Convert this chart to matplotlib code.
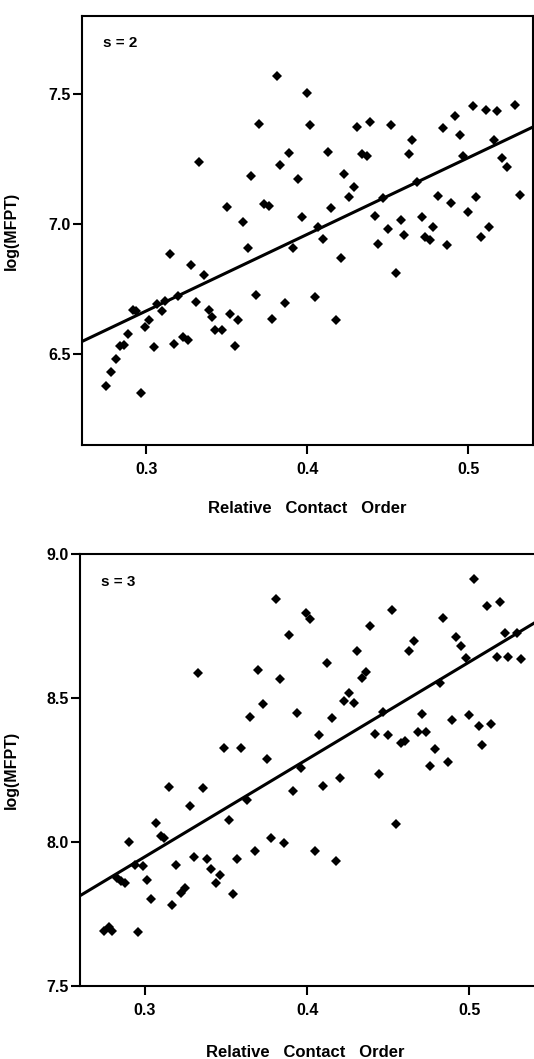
import numpy as np
import matplotlib
matplotlib.use('Agg')
from matplotlib import pyplot as plt

plt.rcParams['font.family'] = ['Liberation Sans', 'DejaVu Sans']
plt.rcParams['font.weight'] = 'bold'

# s = 2 panel
rco_s2 = [0.381, 0.370, 0.333, 0.389, 0.383, 0.365, 0.394, 0.350, 0.373, 0.376,
          0.360, 0.397, 0.400, 0.402, 0.413, 0.423, 0.429, 0.426, 0.415, 0.431,
          0.439, 0.452, 0.434, 0.437, 0.465, 0.463, 0.484, 0.492, 0.495, 0.503,
          0.511, 0.518, 0.529, 0.516, 0.497, 0.521, 0.524, 0.468, 0.447, 0.407,
          0.532, 0.481, 0.489, 0.505, 0.500, 0.442, 0.458, 0.450, 0.471, 0.478,
          0.460, 0.473, 0.476, 0.513, 0.508, 0.410, 0.444, 0.487, 0.391, 0.421,
          0.455, 0.386, 0.405, 0.378, 0.418, 0.315, 0.328, 0.336, 0.363, 0.368,
          0.320, 0.331, 0.312, 0.307, 0.310, 0.292, 0.294, 0.339, 0.341, 0.352,
          0.357, 0.343, 0.347, 0.355, 0.302, 0.299, 0.289, 0.284, 0.286, 0.305,
          0.317, 0.323, 0.326, 0.281, 0.278, 0.275, 0.297]
mfpt_s2 = [7.571, 7.386, 7.237, 7.273, 7.228, 7.183, 7.173, 7.064, 7.076, 7.069,
           7.008, 7.026, 7.505, 7.381, 7.277, 7.192, 7.142, 7.105, 7.061, 7.373,
           7.391, 7.380, 7.269, 7.260, 7.324, 7.268, 7.368, 7.417, 7.344, 7.453,
           7.440, 7.434, 7.459, 7.324, 7.263, 7.254, 7.219, 7.161, 7.099, 6.990,
           7.112, 7.109, 7.080, 7.105, 7.047, 7.032, 7.015, 6.981, 7.026, 6.987,
           6.958, 6.951, 6.938, 6.990, 6.951, 6.944, 6.922, 6.920, 6.909, 6.871,
           6.812, 6.698, 6.719, 6.636, 6.629, 6.883, 6.842, 6.803, 6.906, 6.726,
           6.722, 6.700, 6.703, 6.694, 6.664, 6.668, 6.664, 6.671, 6.642, 6.653,
           6.629, 6.593, 6.593, 6.530, 6.629, 6.603, 6.575, 6.530, 6.533, 6.526,
           6.539, 6.565, 6.552, 6.480, 6.432, 6.377, 6.349]

# s = 3 panel
rco_s3 = [0.381, 0.389, 0.333, 0.370, 0.383, 0.373, 0.365, 0.394, 0.349, 0.359,
          0.375, 0.399, 0.402, 0.412, 0.431, 0.439, 0.452, 0.466, 0.463, 0.484,
          0.503, 0.511, 0.519, 0.492, 0.495, 0.522, 0.529, 0.498, 0.517, 0.524,
          0.532, 0.436, 0.434, 0.482, 0.426, 0.423, 0.429, 0.415, 0.447, 0.471,
          0.489, 0.500, 0.506, 0.513, 0.508, 0.407, 0.442, 0.450, 0.468, 0.473,
          0.458, 0.460, 0.479, 0.476, 0.487, 0.396, 0.315, 0.336, 0.391, 0.410,
          0.420, 0.444, 0.363, 0.328, 0.352, 0.307, 0.310, 0.312, 0.290, 0.378,
          0.386, 0.368, 0.330, 0.338, 0.357, 0.294, 0.299, 0.319, 0.341, 0.346,
          0.344, 0.283, 0.285, 0.288, 0.301, 0.325, 0.322, 0.354, 0.304, 0.317,
          0.275, 0.278, 0.280, 0.296, 0.455, 0.405, 0.418]
mfpt_s3 = [8.846, 8.719, 8.588, 8.600, 8.567, 8.481, 8.435, 8.450, 8.328, 8.328,
           8.290, 8.797, 8.777, 8.623, 8.663, 8.752, 8.805, 8.698, 8.663, 8.779,
           8.915, 8.819, 8.835, 8.712, 8.681, 8.727, 8.727, 8.640, 8.644, 8.642,
           8.638, 8.590, 8.571, 8.552, 8.517, 8.490, 8.484, 8.432, 8.451, 8.447,
           8.426, 8.443, 8.403, 8.411, 8.339, 8.372, 8.376, 8.372, 8.383, 8.383,
           8.345, 8.351, 8.325, 8.265, 8.278, 8.259, 8.192, 8.189, 8.178, 8.195,
           8.224, 8.236, 8.148, 8.128, 8.079, 8.069, 8.021, 8.015, 8.001, 8.017,
           7.999, 7.969, 7.948, 7.943, 7.943, 7.923, 7.919, 7.920, 7.909, 7.888,
           7.859, 7.876, 7.865, 7.859, 7.870, 7.842, 7.824, 7.822, 7.805, 7.784,
           7.694, 7.708, 7.691, 7.689, 8.064, 7.969, 7.934]

x_ticks = [0.3, 0.4, 0.5]
x_ticklabels = ['0.3', '0.4', '0.5']
s2_yticks = [6.5, 7.0, 7.5]
s2_yticklabels = ['6.5', '7.0', '7.5']
s3_yticks = [7.5, 8.0, 8.5, 9.0]
s3_yticklabels = ['7.5', '8.0', '8.5', '9.0']


def panel(ax, x, y, xlim, ylim, yticks, yticklabels, tag):
    ax.plot(x, y, 'D', color='black', ms=5.6, mew=0, zorder=3)
    # least squares fit, drawn across the whole x range
    slope, icpt = np.polyfit(x, y, 1)
    xs = np.array(xlim)
    ax.plot(xs, slope * xs + icpt, color='black', lw=2.2, zorder=2,
            solid_capstyle='butt')
    ax.set_xlim(*xlim)
    ax.set_ylim(*ylim)
    ax.set_xticks(x_ticks)
    ax.set_xticklabels(x_ticklabels)
    ax.set_yticks(yticks)
    ax.set_yticklabels(yticklabels)
    ax.tick_params(axis='both', direction='out', length=6.5, width=1.5,
                   labelsize=11.5, colors='black')
    ax.tick_params(axis='x', pad=5.5)
    ax.tick_params(axis='y', pad=1.5)
    for sp in ax.spines.values():
        sp.set_linewidth(1.5)
    ax.set_xlabel('Relative   Contact   Order', fontsize=12, fontweight='bold')
    ax.set_ylabel('log(MFPT)', fontsize=11.5, fontweight='bold')
    ax.text(0.047, 0.937, tag, transform=ax.transAxes, fontsize=11,
            fontweight='bold', va='center', ha='left')


fig = plt.figure(figsize=(5.34, 10.59), dpi=100)
ax1 = fig.add_axes([0.1530, 0.5798, 0.8446, 0.4051])
ax2 = fig.add_axes([0.1498, 0.0685, 0.8539, 0.4081])

panel(ax1, rco_s2, mfpt_s2, (0.26, 0.54), (6.15, 7.8), s2_yticks, s2_yticklabels, 's = 2')
panel(ax2, rco_s3, mfpt_s3, (0.26, 0.541), (7.5, 9.0), s3_yticks, s3_yticklabels, 's = 3')

ax1.xaxis.set_label_coords(0.5, -0.147)
ax1.xaxis.label.set_va('center')
ax1.yaxis.set_label_coords(-0.139, 0.5)
ax2.xaxis.set_label_coords(0.495, -0.153)
ax2.xaxis.label.set_va('center')
ax2.yaxis.set_label_coords(-0.133, 0.5)

fig.savefig('out.png', dpi=100)
